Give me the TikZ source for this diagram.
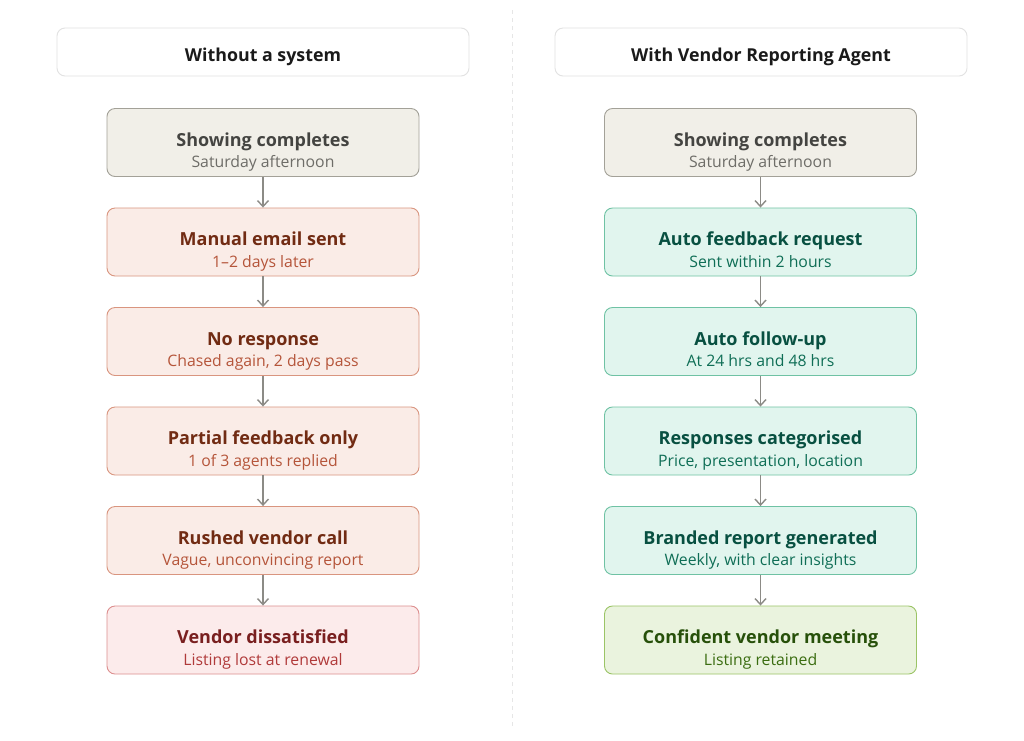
\documentclass[tikz,border=0pt]{standalone}
\usepackage{fontspec}
\setmainfont{Open Sans}
\usetikzlibrary{arrows.meta}
\definecolor{hdrline}{HTML}{E2E2E2}
\definecolor{hdrtext}{HTML}{1A1A1A}
\definecolor{divline}{HTML}{E6E6E6}
\definecolor{arrowc}{HTML}{8C8B86}
\definecolor{gfill}{HTML}{F1EFE8}
\definecolor{gline}{HTML}{A3A198}
\definecolor{gtitle}{HTML}{444441}
\definecolor{gsub}{HTML}{6E6D68}
\definecolor{rfill}{HTML}{FAECE7}
\definecolor{rline}{HTML}{D9957F}
\definecolor{rtitle}{HTML}{712B13}
\definecolor{rsub}{HTML}{B5553A}
\definecolor{pfill}{HTML}{FCEBEB}
\definecolor{pline}{HTML}{DC8E8E}
\definecolor{ptitle}{HTML}{791F1F}
\definecolor{psub}{HTML}{B03A3A}
\definecolor{tfill}{HTML}{E1F5EE}
\definecolor{tline}{HTML}{6FC2A4}
\definecolor{ttitle}{HTML}{085041}
\definecolor{tsub}{HTML}{0F6E56}
\definecolor{vfill}{HTML}{EAF3DE}
\definecolor{vline}{HTML}{9BC466}
\definecolor{vtitle}{HTML}{27500A}
\definecolor{vsub}{HTML}{3B6D11}
% #1 name, #2 kind (g,r,p,t,v), #3 x, #4 y, #5 title, #6 subtitle
\newcommand\flowbox[6]{%
  \node[flow, fill=#2fill, draw=#2line] (#1) at (#3,#4) {};
  \node[titletext, text=#2title] (#1-t) at (#3,#4+3.5) {#5};
  \node[subtext, text=#2sub] (#1-s) at (#3,#4+25) {#6};
}
\begin{document}
\begin{tikzpicture}[x=1pt,y=-1pt,
  hdr/.style={draw=hdrline, fill=white, line width=0.9pt, rounded corners=8pt, minimum width=412pt, minimum height=48pt, inner sep=0pt},
  hdrtxt/.style={anchor=base, inner sep=0pt, text=hdrtext, font=\fontsize{17.8}{20}\selectfont\bfseries},
  flow/.style={rounded corners=8pt, minimum width=312pt, minimum height=68pt, line width=0.9pt, inner sep=0pt},
  titletext/.style={anchor=base, inner sep=0pt, font=\fontsize{18}{20}\selectfont\bfseries},
  subtext/.style={anchor=base, inner sep=0pt, font=\fontsize{15.8}{18}\selectfont},
  link/.style={draw=arrowc, line width=1.4pt, -{Straight Barb[length=6pt,width=11pt,line width=1.4pt]}}
]
\useasboundingbox (0,0) rectangle (1024,740);
\fill[white] (0,0) rectangle (1024,740);
\draw[divline, line width=1pt, dash pattern=on 4pt off 4pt] (512,10) -- (512,726);

\node[hdr] (hl) at (263,52) {};
\node[hdrtxt] (hl-t) at (263,61.7) {Without a system};
\node[hdr] (hr) at (761,52) {};
\node[hdrtxt] (hr-t) at (761,61.7) {With Vendor Reporting Agent};

\flowbox{l1}{g}{263}{142.5}{Showing completes}{Saturday afternoon}
\flowbox{l2}{r}{263}{242}{Manual email sent}{1–2 days later}
\flowbox{l3}{r}{263}{341.5}{No response}{Chased again, 2 days pass}
\flowbox{l4}{r}{263}{441}{Partial feedback only}{1 of 3 agents replied}
\flowbox{l5}{r}{263}{540.5}{Rushed vendor call}{Vague, unconvincing report}
\flowbox{l6}{p}{263}{640}{Vendor dissatisfied}{Listing lost at renewal}

\flowbox{r1}{g}{760.5}{142.5}{Showing completes}{Saturday afternoon}
\flowbox{r2}{t}{760.5}{242}{Auto feedback request}{Sent within 2 hours}
\flowbox{r3}{t}{760.5}{341.5}{Auto follow-up}{At 24 hrs and 48 hrs}
\flowbox{r4}{t}{760.5}{441}{Responses categorised}{Price, presentation, location}
\flowbox{r5}{t}{760.5}{540.5}{Branded report generated}{Weekly, with clear insights}
\flowbox{r6}{v}{760.5}{640}{Confident vendor meeting}{Listing retained}

\foreach \a/\b in {l1/l2,l2/l3,l3/l4,l4/l5,l5/l6,r1/r2,r2/r3,r3/r4,r4/r5,r5/r6}
  \draw[link] (\a.south) -- (\b.north);
\end{tikzpicture}
\end{document}
